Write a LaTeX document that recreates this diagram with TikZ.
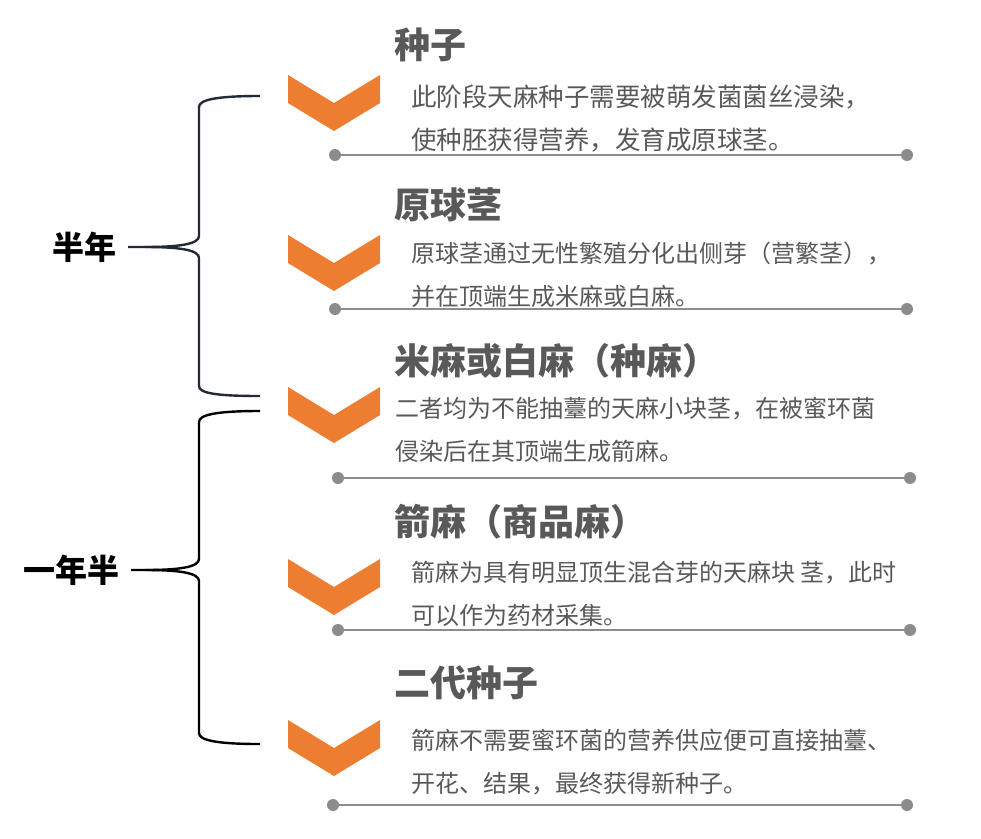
\documentclass[tikz,border=0pt]{standalone}
\usepackage{fontspec}
\setmainfont{Noto Sans CJK SC}
\usepackage{tikz}
\usetikzlibrary{positioning}
\definecolor{orangeC}{HTML}{ED7D31}
\definecolor{grisT}{HTML}{595959}
\definecolor{grisL}{HTML}{8C8C8C}
\definecolor{ardoise}{HTML}{222A35}
\newcommand{\chev}[2]{\fill[orangeC] (#1,#2) -- ++(46,28) -- ++(46,-28) -- ++(0,28) -- ++(-46,28) -- ++(-46,-28) -- cycle;}
\tikzset{
  titre/.style={anchor=west, inner sep=0pt, text=grisT, font=\fontsize{36}{40}\selectfont\bfseries},
  corps/.style={anchor=west, inner sep=0pt, align=left, text=grisT, font=\fontsize{#1}{43}\selectfont},
  corps/.default=24,
  duree/.style={inner sep=0pt, font=\fontsize{32}{36}\selectfont\bfseries},
  sep/.style={draw=grisL, line width=1.8pt},
  pt/.style={circle, fill=grisL, inner sep=0pt, minimum size=12pt},
  accol/.style={line width=2.4pt, draw=#1},
}

\begin{document}
\begin{tikzpicture}[x=1pt,y=-1pt]
        \useasboundingbox (0,0) rectangle (981,838);
        \chev{288}{75} \chev{288}{235} \chev{288}{387} \chev{288}{559} \chev{288}{720}
        \node[titre] (t1) at (394,45) {种子};
        \node[corps=25.5] (c1) at (411,118.5) {此阶段天麻种子需要被萌发菌菌丝浸染，\\使种胚获得营养，发育成原球茎。};
        \node[pt] (g1) at (335,155) {}; \node[pt] (d1) at (907,155) {};
        \node[titre] (t2) at (394,205) {原球茎};
        \node[corps] (c2) at (411,274.5) {原球茎通过无性繁殖分化出侧芽（营繁茎），\\并在顶端生成米麻或白麻。};
        \node[pt] (g2) at (335,309) {}; \node[pt] (d2) at (907,309) {};
        \node[titre] (t3) at (394,361) {米麻或白麻（种麻）};
        \node[corps] (c3) at (395,429.5) {二者均为不能抽薹的天麻小块茎，在被蜜环菌\\侵染后在其顶端生成箭麻。};
        \node[pt] (g3) at (338,478) {}; \node[pt] (d3) at (910,478) {};
        \node[titre] (t4) at (394,522) {箭麻（商品麻）};
        \node[corps] (c4) at (411,594) {箭麻为具有明显顶生混合芽的天麻块 茎，此时\\可以作为药材采集。};
        \node[pt] (g4) at (338,630) {}; \node[pt] (d4) at (910,630) {};
        \node[titre] (t5) at (394,683) {二代种子};
        \node[corps] (c5) at (411,762.5) {箭麻不需要蜜环菌的营养供应便可直接抽薹、\\开花、结果，最终获得新种子。};
        \node[pt] (g5) at (333,805) {}; \node[pt] (d5) at (907,805) {};
        \draw[sep] (g1) -- (d1); \draw[sep] (g2) -- (d2); \draw[sep] (g3) -- (d3);
        \draw[sep] (g4) -- (d4); \draw[sep] (g5) -- (d5);
        \node[duree] (b1) at (84,247) {半年};
        \node[duree] (b2) at (71,570) {一年半};
        \coordinate (h1) at (260,96); \coordinate (k1) at (260,396);
        \coordinate (h2) at (260,411); \coordinate (k2) at (260,744);
        \draw[accol=ardoise] ([xshift=12pt]b1.east) -- (145,247)
          .. controls (180,247) and (199,250) .. (199,258) -- (199,386)
          .. controls (199,393) and (215,396) .. (k1);
        \draw[accol=ardoise] (145,247) .. controls (180,247) and (199,244) .. (199,236) -- (199,107)
          .. controls (199,100) and (215,96) .. (h1);
        \draw[accol=black] ([xshift=12pt]b2.east) -- (145,570)
          .. controls (180,570) and (199,573) .. (199,581) -- (199,733)
          .. controls (199,740) and (215,744) .. (k2);
        \draw[accol=black] (145,570) .. controls (180,570) and (199,567) .. (199,559) -- (199,422)
          .. controls (199,415) and (215,411) .. (h2);
      \end{tikzpicture}
\end{document}
